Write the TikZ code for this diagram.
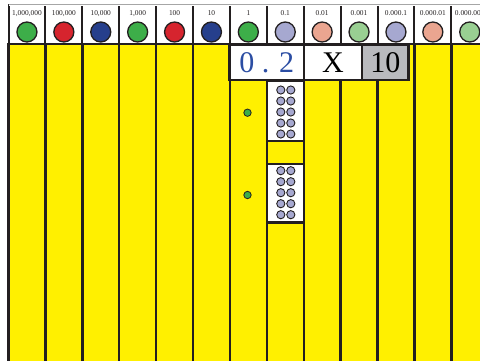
\documentclass[tikz,border=0pt]{standalone}
\usepackage{fontspec}
\setmainfont{Liberation Serif}
\usetikzlibrary{positioning}

\definecolor{ink}{HTML}{231F20}
\definecolor{colyellow}{HTML}{FFF000}
\definecolor{cgreen}{HTML}{3DAE49}
\definecolor{cred}{HTML}{D6242E}
\definecolor{cblue}{HTML}{263F8C}
\definecolor{clav}{HTML}{A6A8D0}
\definecolor{csalmon}{HTML}{EAA590}
\definecolor{clgreen}{HTML}{99CF92}
\definecolor{digitblue}{HTML}{2B4DA3}
\definecolor{tengray}{HTML}{B9BABE}

\begin{document}
\begin{tikzpicture}[
    x=1pt, y=-1pt,
    column/.style={draw=ink, line width=2.4pt, fill=colyellow},
    hcell/.style={
      rectangle, draw=ink, line width=2pt, fill=white,
      minimum width=36.9pt, minimum height=39pt, inner sep=0pt
    },
    hlabel/.style={font=\fontsize{7.4}{8}\selectfont, text=ink, inner sep=0pt},
    coin/.style={circle, draw=ink, line width=1.3pt, minimum size=20pt, inner sep=0pt},
    strip/.style={
      rectangle, draw=ink, line width=2.4pt, fill=white, outer sep=0pt,
      minimum height=35pt, inner sep=0pt, font=\fontsize{30}{30}\selectfont
    },
    beadbox/.style={
      rectangle, draw=ink, line width=2.4pt, fill=white, outer sep=0pt,
      minimum width=36.9pt, inner sep=0pt
    },
    bead/.style={circle, draw=ink, line width=0.9pt, fill=clav, minimum size=8.2pt, inner sep=0pt},
    unit/.style={circle, draw=ink, line width=0.8pt, fill=cgreen, minimum size=7.4pt, inner sep=0pt}
  ]
    \useasboundingbox (0,0) rectangle (480,360);
    \clip (0,0) rectangle (480,360);

    % Place value columns
    \foreach \i in {0,...,12}
      \draw[column] ({8.5+36.9*\i},44) rectangle ++(36.9,330);

    % Header with coins
    \foreach \i/\lab/\col in {0/{1,000,000}/cgreen, 1/{100,000}/cred, 2/{10,000}/cblue,
        3/{1,000}/cgreen, 4/100/cred, 5/10/cblue, 6/1/cgreen, 7/0.1/clav,
        8/0.01/csalmon, 9/0.001/clgreen, 10/0.000.1/clav, 11/0.000.01/csalmon,
        12/0.000.001/clgreen} {
      \node[hcell] (h\i) at ({26.95+36.9*\i},24.5) {};
      \node[hlabel] (lab\i) at ({26.95+36.9*\i},13.5) {\lab};
      \node[coin, fill=\col] (coin\i) at ({26.95+36.9*\i},32) {};
    }
    \draw[white, line width=1.8pt] (8.5,5) -- (480,5);
    \draw[gray!70, line width=0.8pt] (8.5,4.6) -- (480,4.6);

    % Multiplication strip
    \node[strip, minimum width=74.5pt] (dec) at (266.75,62.5) {\textcolor{digitblue}{0 . 2}};
    \node[strip, minimum width=58pt] (times) [right=0pt of dec] {X};
    \node[strip, fill=tengray, minimum width=46.5pt] (ten) [right=0pt of times] {10};

    % Tenths column: two boxes of ten
    \node[beadbox, minimum height=60pt] (upper) at (285.25,111) {};
    \node[beadbox, fill=colyellow, minimum height=23pt] (gap) [below=0pt of upper] {};
    \node[beadbox, minimum height=58.5pt] (lower) [below=0pt of gap] {};

    \foreach \r in {0,...,4} {
      \node[bead] (ua\r) at (280.8,{90+11*\r}) {};
      \node[bead] (ub\r) at (290.8,{90+11*\r}) {};
      \node[bead] (la\r) at (280.8,{170.7+11*\r}) {};
      \node[bead] (lb\r) at (290.8,{170.7+11*\r}) {};
    }

    % Ones column
    \node[unit] (one1) at (247.5,112.7) {};
    \node[unit] (one2) at (247.5,195) {};

  \end{tikzpicture}
\end{document}
